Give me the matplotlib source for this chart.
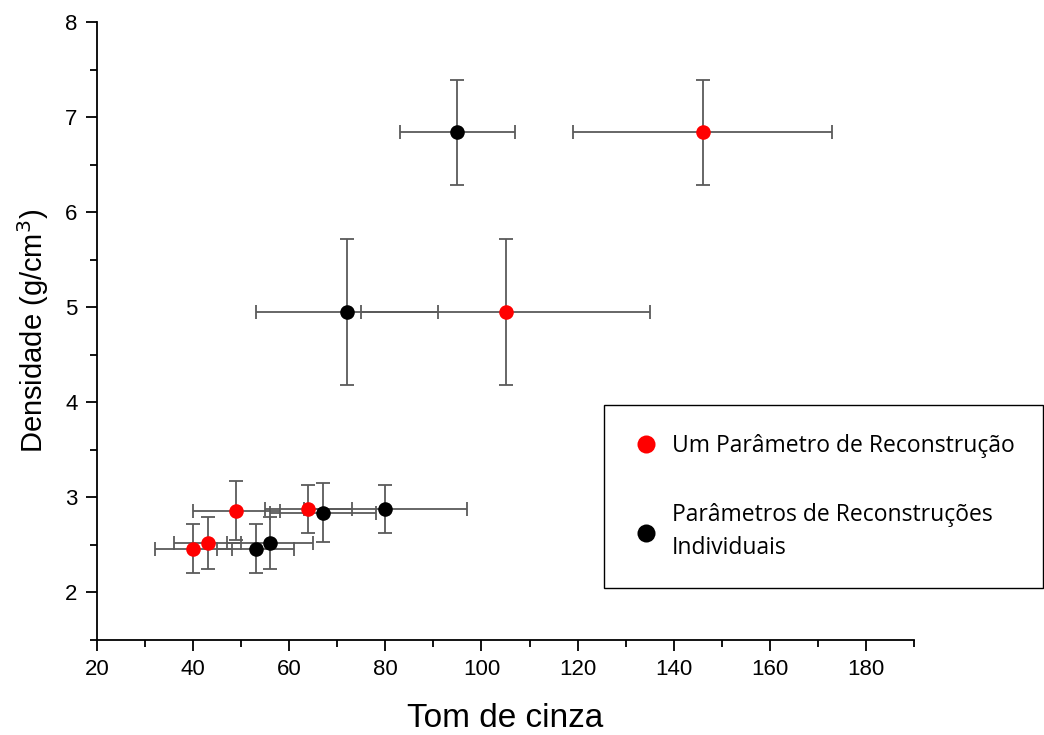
import matplotlib
matplotlib.use("Agg")
import matplotlib.pyplot as plt
from matplotlib.lines import Line2D
from matplotlib.ticker import MultipleLocator

# Data
red_x = [40, 43, 49, 64, 105, 146]
red_y = [2.46, 2.52, 2.86, 2.88, 4.95, 6.84]
red_xerr = [8, 7, 9, 9, 30, 27]
red_yerr = [0.26, 0.27, 0.31, 0.25, 0.77, 0.55]

black_x = [53, 56, 67, 80, 72, 95]
black_y = [2.46, 2.52, 2.84, 2.88, 4.95, 6.84]
black_xerr = [8, 9, 11, 17, 19, 12]
black_yerr = [0.26, 0.27, 0.31, 0.25, 0.77, 0.55]

label_red = "Um Parâmetro de Reconstrução"
label_black = "Parâmetros de Reconstruções\nIndividuais"
xlabel = "Tom de cinza"
ylabel = "Densidade (g/cm$^3$)"

fig = plt.figure(figsize=(10.44, 7.35), dpi=100)
ax = fig.add_axes([97/1044, 1-640/735, (914-97)/1044, (640-22)/735])

ebar_kw = dict(fmt="none", ecolor="#5a5a5a", elinewidth=1.3, capsize=5, capthick=1.3, zorder=2)
ax.errorbar(red_x, red_y, xerr=red_xerr, yerr=red_yerr, **ebar_kw)
ax.errorbar(black_x, black_y, xerr=black_xerr, yerr=black_yerr, **ebar_kw)
ax.plot(red_x, red_y, "o", color="#ff0000", markersize=10.5, markeredgewidth=0, zorder=3)
ax.plot(black_x, black_y, "o", color="#000000", markersize=10.5, markeredgewidth=0, zorder=4)

ax.set_xlim(20, 190)
ax.set_ylim(1.5, 8)
ax.xaxis.set_major_locator(MultipleLocator(20))
ax.xaxis.set_minor_locator(MultipleLocator(10))
ax.yaxis.set_major_locator(MultipleLocator(1))
ax.yaxis.set_minor_locator(MultipleLocator(0.5))
ax.set_yticks([2, 3, 4, 5, 6, 7, 8])

for s in ["top", "right"]:
    ax.spines[s].set_visible(False)
for s in ["left", "bottom"]:
    ax.spines[s].set_linewidth(1.3)

ax.tick_params(which="major", direction="out", length=8, width=1.3, labelsize=16, pad=6)
ax.tick_params(which="minor", direction="out", length=5, width=1.3)
for lab in ax.get_xticklabels() + ax.get_yticklabels():
    lab.set_family("Liberation Sans")

ax.set_xlabel(xlabel, fontsize=24, family="Liberation Sans", labelpad=16)
ax.set_ylabel(ylabel, fontsize=21, family="Liberation Sans", labelpad=10)

handles = [
    Line2D([], [], linestyle="none", marker="o", color="#ff0000", markersize=13, markeredgewidth=0),
    Line2D([], [], linestyle="none", marker="o", color="#000000", markersize=13, markeredgewidth=0),
]
leg = ax.legend(handles, [label_red, label_black], loc="upper left",
                bbox_to_anchor=(604/1044, 1-405/735), bbox_transform=fig.transFigure,
                frameon=True, fancybox=False, edgecolor="black", framealpha=1,
                prop={"family": "Open Sans", "size": 16.5}, labelspacing=2.0,
                borderpad=1.25, handletextpad=0.5, handlelength=1.2, borderaxespad=0)
for t in leg.get_texts():
    t.set_linespacing(1.45)
leg.get_frame().set_linewidth(1.0)

fig.savefig("out.png", dpi=100)
